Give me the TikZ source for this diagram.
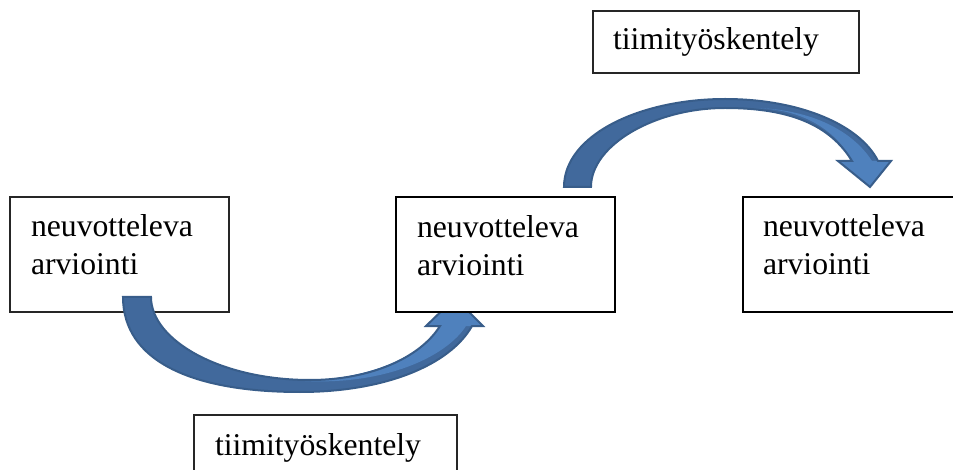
\documentclass[tikz,border=0pt]{standalone}
\usepackage{fontspec}
\setmainfont{Liberation Serif}
\definecolor{arrline}{HTML}{385D8A}
\definecolor{arrdark}{HTML}{41699C}
\definecolor{arrlight}{HTML}{4F81BD}
\begin{document}
\begin{tikzpicture}[x=1pt,y=-1pt,
  box/.style={draw=black!85, line width=1.2pt, fill=white, rectangle, inner sep=0pt, outer sep=0pt},
  boxthick/.style={box, draw=black, line width=2pt},
  txt/.style={inner sep=0pt, outer sep=0pt, align=left, anchor=base west, font=\fontsize{31.7}{38}\selectfont},
  arrowbody/.style={fill=arrdark},
  arrowface/.style={fill=arrlight},
  arrowedge/.style={draw=arrline, line width=2pt, line join=miter}]
\useasboundingbox (0,0) rectangle (953,470);
\clip (0,0) rectangle (953,470);

% left box (under the arrow)
\node[box, minimum width=219pt, minimum height=115pt] (b1) at (119.5,254.5) {};
\node[txt] (t1) at ([shift={(21,78)}]b1.north west) {neuvotteleva\\arviointi};

% bottom curved arrow
\path[arrowbody] (123,297) .. controls (123,360) and (190,392) .. (300,392)
  .. controls (385,392) and (450,365) .. (472,326) -- (483,326) -- (455,298) -- (426,326) -- (440,326)
  .. controls (420,358) and (370,380) .. (310,380) .. controls (220,380) and (151,340) .. (151,297) -- cycle;
\path[arrowface] (305,381) .. controls (370,378) and (420,358) .. (440,326) -- (426,326) -- (455,298)
  -- (483,326) -- (466,326) .. controls (446,357) and (385,385) .. (305,381) -- cycle;
\draw[arrowedge] (123,297) .. controls (123,360) and (190,392) .. (300,392)
  .. controls (385,392) and (450,365) .. (472,326) -- (483,326) -- (455,298) -- (426,326) -- (440,326)
  .. controls (420,358) and (370,380) .. (310,380) .. controls (220,380) and (151,340) .. (151,297) -- cycle;

% top curved arrow
\path[arrowbody] (564,187) .. controls (564,135) and (640,99) .. (725,99)
  .. controls (800,99) and (860,125) .. (878,161) -- (891,161) -- (870,187) -- (838,161) -- (852,161)
  .. controls (830,125) and (790,108) .. (725,108) .. controls (655,108) and (591,145) .. (591,187) -- cycle;
\path[arrowface] (755,108) .. controls (800,109) and (835,128) .. (852,161) -- (838,161) -- (870,187)
  -- (891,161) -- (872,161) .. controls (850,127) and (805,109) .. (755,108) -- cycle;
\draw[arrowedge] (564,187) .. controls (564,135) and (640,99) .. (725,99)
  .. controls (800,99) and (860,125) .. (878,161) -- (891,161) -- (870,187) -- (838,161) -- (852,161)
  .. controls (830,125) and (790,108) .. (725,108) .. controls (655,108) and (591,145) .. (591,187) -- cycle;

% middle and right boxes
\node[boxthick, minimum width=219pt, minimum height=115pt] (b2) at (505.5,254.5) {};
\node[txt] (t2) at ([shift={(21,79)}]b2.north west) {neuvotteleva\\arviointi};
\node[boxthick, minimum width=222pt, minimum height=115pt] (b3) at (854,254.5) {};
\node[txt] (t3) at ([shift={(20,78)}]b3.north west) {neuvotteleva\\arviointi};

% label boxes
\node[box, minimum width=266pt, minimum height=62pt] (l1) at (726,42) {};
\node[txt] (lt1) at ([shift={(20,39)}]l1.north west) {tiimityöskentely};
\node[box, minimum width=263pt, minimum height=70pt] (l2) at (325.5,450) {};
\node[txt] (lt2) at ([shift={(21,40)}]l2.north west) {tiimityöskentely};
\end{tikzpicture}
\end{document}
